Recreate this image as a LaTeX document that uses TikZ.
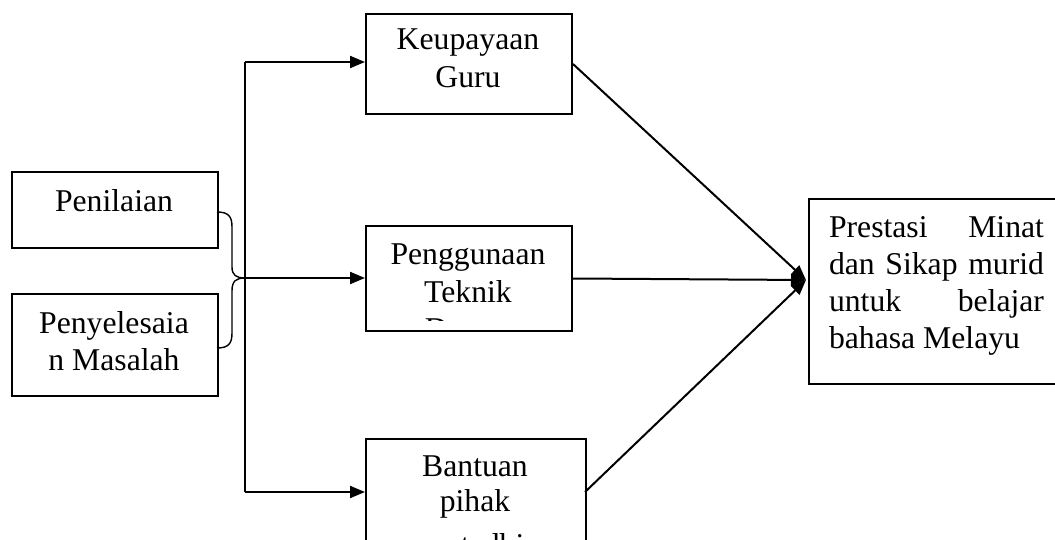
\documentclass[tikz,border=0pt]{standalone}
\usepackage{fontspec}
\setmainfont{Liberation Serif}
\usetikzlibrary{arrows.meta}
\begin{document}
\begin{tikzpicture}[x=1pt,y=-1pt, line width=2pt,
 box/.style={draw, rectangle, inner sep=0pt, anchor=north west},
 lbl/.style={anchor=base, inner sep=0pt, font=\fontsize{31.7}{37.5}\selectfont},
 lblw/.style={anchor=base west, inner sep=0pt, font=\fontsize{31.7}{37.5}\selectfont},
 arr/.style={-{Triangle[length=15pt,width=12pt]}}]
\useasboundingbox (0,0) rectangle (1055,540);
% boxes
\node[box, minimum width=206pt, minimum height=100pt] (keu) at (365,13) {};
\node[box, minimum width=206pt, minimum height=76pt] (pen) at (11,171) {};
\node[box, minimum width=206pt, minimum height=102pt] (pny) at (11,293) {};
\node[box, minimum width=206pt, minimum height=105pt] (pgn) at (365,225) {};
\node[box, minimum width=220pt, minimum height=150pt] (ban) at (365,438) {};
\node[box, minimum width=252pt, minimum height=185pt] (pre) at (808,198) {};
% texts
\node[lbl] (t1) at (468,50) {Keupayaan};
\node[lbl] (t2) at (468,88) {Guru};
\node[lbl] (t3) at (114,212) {Penilaian};
\node[lbl] (t4) at (114,333) {Penyelesaia};
\node[lbl] (t5) at (114,370) {n Masalah};
\node[lbl] (t6) at (468,265) {Penggunaan};
\node[lbl] (t7) at (468,302) {Teknik};
\begin{scope}
\clip (366,226) rectangle (570,320);
\node[lbl] (t8) at (468,339) {Drama};
\end{scope}
\node[lbl] (t9) at (475,476) {Bantuan};
\node[lbl] (t10) at (475,511) {pihak};
\node[lbl] (t11) at (475,555) {pentadbir};
\node[lblw] (p1) at (828,237) {\makebox[215pt][s]{Prestasi Minat}};
\node[lblw] (p2) at (828,274) {\makebox[215pt][s]{dan Sikap murid}};
\node[lblw] (p3) at (828,311) {\makebox[215pt][s]{untuk belajar}};
\node[lblw] (p4) at (828,348) {bahasa Melayu};
% coordinates
\coordinate (top) at (245,62);
\coordinate (mid) at (245,278);
\coordinate (bot) at (245,492);
\coordinate (keuin) at (365,62);
\coordinate (pgnin) at (365,278);
\coordinate (banin) at (365,492);
\coordinate (banout) at (585,492);
\coordinate (prein) at (806,280);
% brace
\draw[line width=1.4pt] (217,212) .. controls (229,212) and (232,217) .. (232,227) -- (232,267) .. controls (232,275) and (236,278) .. (mid);
\draw[line width=1.4pt] (217,348) .. controls (229,348) and (232,343) .. (232,333) -- (232,291) .. controls (232,281) and (236,278) .. (mid);
% connectors
\draw (bot) -- (top);
\draw[arr] (top) -- (keuin);
\draw[arr] (mid) -- (pgnin);
\draw[arr] (bot) -- (banin);
\draw[arr] (keu.east) -- (prein);
\draw[arr] (pgn.east) -- (prein);
\draw[arr] (banout) -- (prein);
\end{tikzpicture}
\end{document}
